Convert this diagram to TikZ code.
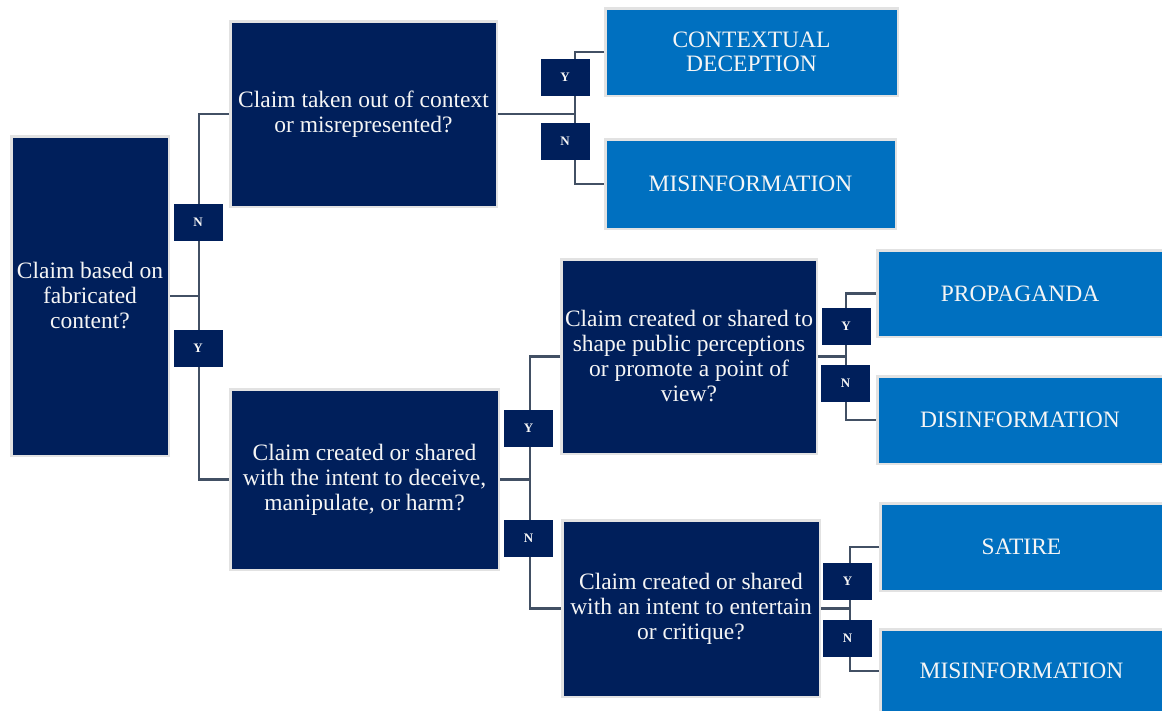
\documentclass[tikz,border=0pt]{standalone}
\usepackage{fontspec}
\setmainfont{Liberation Serif}
\definecolor{navy}{RGB}{0,31,91}
\definecolor{outblue}{RGB}{0,112,192}
\definecolor{rim}{RGB}{226,226,226}
\definecolor{connc}{RGB}{66,80,100}
\definecolor{txt}{RGB}{245,245,245}
\begin{document}
\begin{tikzpicture}[x=1pt,y=-1pt,
  qbox/.style={fill=navy,draw=rim,line width=2.5pt,inner sep=0pt,align=center,text=txt,
    font=\fontsize{23.5}{25}\selectfont},
  obox/.style={fill=outblue,draw=rim,line width=2.5pt,inner sep=0pt,align=center,text=txt,
    font=\fontsize{23.5}{24.5}\selectfont},
  yn/.style={fill=navy,inner sep=0pt,minimum width=49pt,minimum height=37pt,text=txt,
    font=\fontsize{13}{14}\selectfont\bfseries},
  conn/.style={draw=connc,line width=2.8pt}]
\useasboundingbox (0,0) rectangle (1162,710);
\fill[white] (0,0) rectangle (1162,710);
% question boxes
\node[qbox,minimum width=157.5pt,minimum height=319.5pt] (A) at (90,296) {Claim based on\\fabricated\\content?};
\node[qbox,minimum width=266.5pt,minimum height=185.5pt] (B) at (363.5,114) {Claim taken out of context\\or misrepresented?};
\node[qbox,minimum width=268.5pt,minimum height=180.5pt] (C) at (364.5,479.5) {Claim created or shared\\with the intent to deceive,\\manipulate, or harm?};
\node[qbox,minimum width=255.5pt,minimum height=194.5pt] (D) at (689,356.5) {Claim created or shared to\\shape public perceptions\\or promote a point of\\view?};
\node[qbox,minimum width=257.5pt,minimum height=176.5pt] (E) at (691,608.5) {Claim created or shared\\with an intent to entertain\\or critique?};
% outcome boxes
\node[obox,minimum width=292.5pt,minimum height=87.5pt] (O1) at (751.5,52) {CONTEXTUAL\\DECEPTION};
\node[obox,minimum width=290.5pt,minimum height=89.5pt] (O2) at (750.5,184) {MISINFORMATION};
\node[obox,minimum width=285.5pt,minimum height=86.5pt] (O3) at (1020,293.5) {PROPAGANDA};
\node[obox,minimum width=285.5pt,minimum height=87.5pt] (O4) at (1020,420) {DISINFORMATION};
\node[obox,minimum width=282.5pt,minimum height=87.5pt] (O5) at (1021.5,547) {SATIRE};
\node[obox,minimum width=282.5pt,minimum height=83.5pt] (O6) at (1021.5,671) {MISINFORMATION};
% junctions
\coordinate (jA) at (199,296);
\coordinate (jB) at (575,114);
\coordinate (jC) at (530,479.5);
\coordinate (jD) at (846,356.5);
\coordinate (jE) at (850,608.5);
% connectors
\draw[conn] (A.east) -- (jA);
\draw[conn] (B.west) -| (jA) |- (C.west);
\draw[conn] (B.east) -- (jB);
\draw[conn] (O1.west) -| (jB) |- (O2.west);
\draw[conn] (C.east) -- (jC);
\draw[conn] (D.west) -| (jC) |- (E.west);
\draw[conn] (D.east) -- (jD);
\draw[conn] (O3.west) -| (jD) |- (O4.west);
\draw[conn] (E.east) -- (jE);
\draw[conn] (O5.west) -| (jE) |- (O6.west);
% labels
\node[yn] (lAN) at (198,222.5) {N};
\node[yn] (lAY) at (198,348.5) {Y};
\node[yn] (lBY) at (565,77.5) {Y};
\node[yn] (lBN) at (565,141.5) {N};
\node[yn] (lCY) at (528.5,428.5) {Y};
\node[yn] (lCN) at (528.5,538.5) {N};
\node[yn] (lDY) at (846,326.5) {Y};
\node[yn] (lDN) at (845.5,383.5) {N};
\node[yn] (lEY) at (847.5,581.5) {Y};
\node[yn] (lEN) at (847.5,638.5) {N};
\end{tikzpicture}
\end{document}
